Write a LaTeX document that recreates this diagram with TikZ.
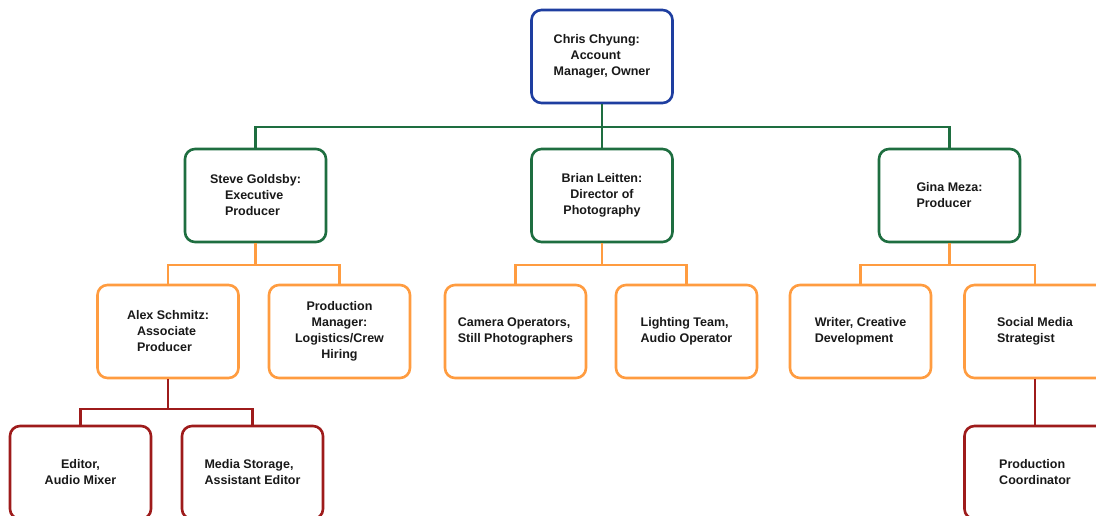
\documentclass[tikz,border=0pt]{standalone}
\usepackage{fontspec}
\setmainfont{Liberation Sans}

\definecolor{topblue}{RGB}{30,62,160}
\definecolor{leadgreen}{RGB}{30,110,64}
\definecolor{crewor}{RGB}{255,156,64}
\definecolor{aidered}{RGB}{158,27,27}
\tikzset{
  card/.style={draw,rounded corners=10pt,line width=2.6pt,fill=white,
    minimum width=141pt,minimum height=93pt,inner sep=2pt,
    font=\bfseries\fontsize{12.5}{16}\selectfont,text=black!90},
  link/.style={line width=2.3pt}
}

\begin{document}
\begin{tikzpicture}[x=1pt,y=-1pt]
  \useasboundingbox[fill=white] (0,0) rectangle (1096,516);
  \node[card,draw=topblue,align=left] (chris) at (602,56.5) {Chris Chyung:\\\hspace*{17pt}Account\\Manager, Owner};

  \node[card,draw=leadgreen,align=left] (steve) at (255.5,195.5) {Steve Goldsby:\\\hspace*{15pt}Executive\\\hspace*{15pt}Producer};
  \node[card,draw=leadgreen,align=center] (brian) at (602,195.5) {Brian Leitten:\\Director of\\Photography};
  \node[card,draw=leadgreen,align=left] (gina) at (949.5,195.5) {Gina Meza:\\Producer};

  \node[card,draw=crewor,align=left] (alex) at (168,331.5) {Alex Schmitz:\\\hspace*{10pt}Associate\\\hspace*{10pt}Producer};
  \node[card,draw=crewor,align=center] (prodman) at (339.5,331.5) {Production\\Manager:\\Logistics/Crew\\Hiring};
  \node[card,draw=crewor,align=left] (camera) at (515.5,331.5) {Camera Operators,\\Still Photographers};
  \node[card,draw=crewor,align=left] (lighting) at (686.5,331.5) {Lighting Team,\\Audio Operator};
  \node[card,draw=crewor,align=left] (writer) at (860.5,331.5) {Writer, Creative\\Development};
  \node[card,draw=crewor,align=left] (social) at (1035,331.5) {Social Media\\Strategist};

  \node[card,draw=aidered,align=center] (editor) at (80.5,472.5) {Editor,\\Audio Mixer};
  \node[card,draw=aidered,align=left] (media) at (252.5,472.5) {Media Storage,\\Assistant Editor};
  \node[card,draw=aidered,align=left] (coord) at (1035,472.5) {Production\\Coordinator};

  % connectors
  \draw[link,leadgreen] (chris.south) -- (brian.north);
  \foreach \c in {steve,gina} \draw[link,leadgreen] (chris.south) -- ++(0,23) -| (\c.north);
  \foreach \c in {alex,prodman} \draw[link,crewor] (steve.south) -- ++(0,22) -| (\c.north);
  \foreach \c in {camera,lighting} \draw[link,crewor] (brian.south) -- ++(0,22) -| (\c.north);
  \foreach \c in {writer,social} \draw[link,crewor] (gina.south) -- ++(0,22) -| (\c.north);
  \foreach \c in {editor,media} \draw[link,aidered] (alex.south) -- ++(0,30) -| (\c.north);
  \draw[link,aidered] (social.south) -- (coord.north);
\end{tikzpicture}
\end{document}
